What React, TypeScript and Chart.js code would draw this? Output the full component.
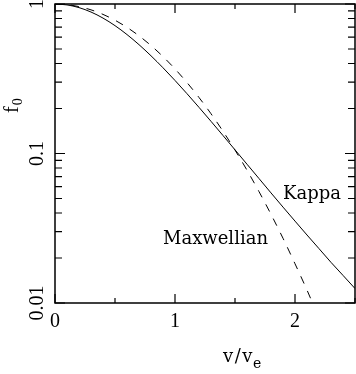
import React, { useEffect, useRef } from "react";
import { Chart, registerables } from "chart.js";

Chart.register(...registerables);

// velocity grid v/v_e
const vKappa = [0, 0.1, 0.2, 0.3, 0.4, 0.5, 0.6, 0.7, 0.8, 0.9, 1.0, 1.1, 1.2, 1.3, 1.4, 1.5, 1.6, 1.7, 1.8, 1.9, 2.0, 2.1, 2.2, 2.3, 2.4, 2.5];
const fKappa = [1, 0.9861, 0.946, 0.8836, 0.8048, 0.7164, 0.6245, 0.5345, 0.4503, 0.3745, 0.308, 0.2512, 0.2035, 0.1641, 0.1319, 0.1058, 0.0848, 0.068, 0.0545, 0.0438, 0.0353, 0.0285, 0.0231, 0.0187, 0.0153, 0.0125];
const vMax = [0, 0.1, 0.2, 0.3, 0.4, 0.5, 0.6, 0.7, 0.8, 0.9, 1.0, 1.1, 1.2, 1.3, 1.4, 1.5, 1.6, 1.7, 1.8, 1.9, 2.0, 2.1, 2.2];
const fMax = [1, 0.99, 0.9608, 0.9139, 0.8521, 0.7788, 0.6977, 0.6126, 0.5273, 0.4449, 0.3679, 0.2982, 0.2369, 0.1845, 0.1409, 0.1054, 0.0773, 0.0556, 0.0392, 0.0271, 0.0183, 0.0122, 0.0079];

const xMajorTicks = [0, 1, 2];
const xMinorTicks = [0.5, 1.5, 2.5];
const xTickLabels = ["0", "1", "2"];
const yMajorTicks = [0.01, 0.1, 1];
const yTickLabels = ["0.01", "0.1", "1"];
const yMinorTicks = [0.02, 0.03, 0.04, 0.05, 0.06, 0.07, 0.08, 0.09, 0.2, 0.3, 0.4, 0.5, 0.6, 0.7, 0.8, 0.9];

const curveLabels = [
  { text: "Kappa", x: 1.9, y: 0.0496 },
  { text: "Maxwellian", x: 0.9, y: 0.0248 },
];

const NUM_FONT = "20px 'Liberation Serif', 'Times New Roman', serif";
const WORD_FONT = "18px 'DejaVu Serif', serif";

const framePlugin = {
  id: "framePlugin",
  afterDraw(chart: any) {
    const ctx = chart.ctx as CanvasRenderingContext2D;
    const { left, right, top, bottom } = chart.chartArea;
    const xs = chart.scales.x;
    const ys = chart.scales.y;
    ctx.save();
    ctx.strokeStyle = "#000";
    ctx.fillStyle = "#000";
    ctx.lineWidth = 1.5;
    // frame
    ctx.beginPath();
    ctx.moveTo(left, top);
    ctx.lineTo(right, top);
    ctx.lineTo(right, bottom);
    ctx.lineTo(left, bottom);
    ctx.closePath();
    ctx.stroke();

    ctx.lineWidth = 1.2;
    const xTick = (v: number, len: number) => {
      const px = xs.getPixelForValue(v);
      ctx.beginPath();
      ctx.moveTo(px, bottom);
      ctx.lineTo(px, bottom - len);
      ctx.moveTo(px, top);
      ctx.lineTo(px, top + len);
      ctx.stroke();
    };
    const yTick = (v: number, len: number) => {
      const py = ys.getPixelForValue(v);
      ctx.beginPath();
      ctx.moveTo(left, py);
      ctx.lineTo(left + len, py);
      ctx.moveTo(right, py);
      ctx.lineTo(right - len, py);
      ctx.stroke();
    };
    xMajorTicks.forEach((v) => xTick(v, 9));
    xMinorTicks.forEach((v) => xTick(v, 5));
    yMajorTicks.forEach((v) => yTick(v, 10));
    yMinorTicks.forEach((v) => yTick(v, 7));

    // x tick labels
    ctx.font = NUM_FONT;
    ctx.textAlign = "center";
    ctx.textBaseline = "alphabetic";
    xMajorTicks.forEach((v, i) => {
      ctx.fillText(xTickLabels[i], xs.getPixelForValue(v), bottom + 24);
    });
    // y tick labels (rotated)
    yMajorTicks.forEach((v, i) => {
      const py = ys.getPixelForValue(v);
      ctx.save();
      ctx.translate(left - 12, py);
      ctx.rotate(-Math.PI / 2);
      ctx.textAlign = "center";
      ctx.fillText(yTickLabels[i], 0, 0);
      ctx.restore();
    });

    // y title f_0
    ctx.save();
    ctx.translate(18, top + 101);
    ctx.rotate(-Math.PI / 2);
    ctx.textAlign = "left";
    ctx.font = "20px 'Liberation Serif', serif";
    const fw = ctx.measureText("f").width;
    ctx.fillText("f", -8, 0);
    ctx.font = "14px 'Liberation Serif', serif";
    ctx.fillText("0", -8 + fw + 1, 4);
    ctx.restore();

    // x title v/v_e
    ctx.font = WORD_FONT;
    ctx.textAlign = "left";
    const tx = xs.getPixelForValue(1.4);
    const ty = bottom + 59;
    const parts = ["v", "/", "v"];
    let cx = tx;
    parts.forEach((p) => {
      ctx.fillText(p, cx, ty);
      cx += ctx.measureText(p).width + 1.5;
    });
    ctx.font = "14px 'DejaVu Serif', serif";
    ctx.fillText("e", cx - 1, ty + 6);

    // curve labels
    ctx.font = WORD_FONT;
    curveLabels.forEach((l) => {
      ctx.fillText(l.text, xs.getPixelForValue(l.x), ys.getPixelForValue(l.y));
    });
    ctx.restore();
  },
};

export default function App() {
  const ref = useRef<HTMLCanvasElement | null>(null);
  useEffect(() => {
    if (!ref.current) return;
    const chart = new Chart(ref.current, {
      type: "scatter",
      data: {
        datasets: [
          {
            label: "Kappa",
            data: vKappa.map((v, i) => ({ x: v, y: fKappa[i] })),
            showLine: true,
            borderColor: "#000",
            borderWidth: 1,
            pointRadius: 0,
            cubicInterpolationMode: "monotone",
          },
          {
            label: "Maxwellian",
            data: vMax.map((v, i) => ({ x: v, y: fMax[i] })),
            showLine: true,
            borderColor: "#000",
            borderWidth: 1,
            borderDash: [8, 8],
            pointRadius: 0,
            cubicInterpolationMode: "monotone",
          },
        ],
      },
      options: {
        animation: false,
        responsive: false,
        events: [],
        layout: { padding: { top: 4, right: 1, left: 0, bottom: 0 } },
        plugins: { legend: { display: false }, tooltip: { enabled: false } },
        scales: {
          x: {
            type: "linear",
            min: 0,
            max: 2.5,
            grid: { display: false },
            border: { display: false },
            ticks: { display: false },
            afterFit: (s: any) => {
              s.height = 71;
            },
          },
          y: {
            type: "logarithmic",
            min: 0.01,
            max: 1,
            grid: { display: false },
            border: { display: false },
            ticks: { display: false },
            afterFit: (s: any) => {
              s.width = 55;
            },
          },
        },
      },
      plugins: [framePlugin],
    } as any);
    return () => chart.destroy();
  }, []);
  return (
    <div style={{ position: "fixed", left: 0, top: 0, width: 356, height: 374, background: "#fff" }}>
      <canvas ref={ref} width={356} height={374} />
    </div>
  );
}
